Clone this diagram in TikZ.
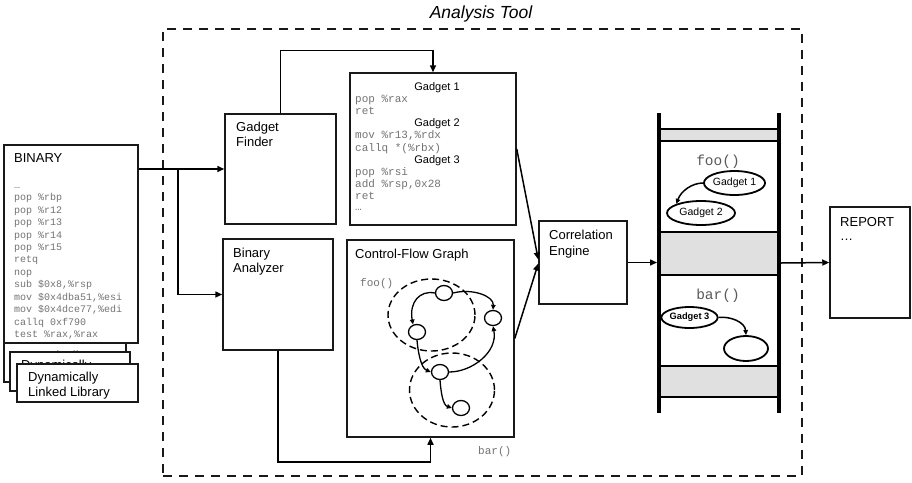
\documentclass[tikz,border=0pt]{standalone}
\usepackage{fontspec}
\setmainfont{Liberation Sans}
\setmonofont{Liberation Mono}
\usetikzlibrary{arrows.meta,shapes.geometric}
\tikzset{
 boxn/.style={draw=black!90,line width=1.5pt,fill=white,inner sep=0pt,rectangle},
 lbl/.style={font=\fontsize{13}{15}\selectfont,inner sep=0pt,anchor=base west},
 codetxt/.style={font=\ttfamily\fontsize{10}{12}\selectfont,text=black!55,inner sep=0pt,anchor=base west},
 gcodetxt/.style={codetxt,font=\ttfamily\fontsize{11}{12}\selectfont},
 ghead/.style={font=\fontsize{11}{12}\selectfont,inner sep=0pt,anchor=base},
 arr/.style={line width=1.5pt,-{Triangle[length=7pt,width=6pt]}},
 cfgn/.style={ellipse,draw,line width=1.3pt,minimum width=17pt,minimum height=15pt,inner sep=0pt,fill=white},
 cfge/.style={line width=1.3pt,-{Triangle[length=5pt,width=4.5pt]}},
 fdash/.style={ellipse,draw,line width=1.4pt,dash pattern=on 7pt off 4pt,inner sep=0pt},
 sell/.style={ellipse,draw,line width=1.8pt,fill=white,inner sep=0pt,font=\fontsize{10.5}{12}\selectfont},
 band/.style={draw,line width=1.5pt,fill=black!12},
 fnname/.style={font=\ttfamily\fontsize{14.5}{16}\selectfont,text=black!65,inner sep=0pt,anchor=base},
}
\begin{document}
\begin{tikzpicture}[x=1pt,y=-1pt]
\useasboundingbox (0,0) rectangle (912,482);

% analysis tool frame
\node[draw=black!90,line width=2.5pt,dash pattern=on 9pt off 7pt,minimum width=639pt,minimum height=447pt,inner sep=0pt] (tool) at (482.5,252.5) {};
\node[font=\itshape\fontsize{17.5}{20}\selectfont,anchor=base,inner sep=0pt] (title) at (481,18.5) {Analysis Tool};

% binary
\node[boxn,minimum width=134pt,minimum height=198pt] (bin) at (71,244) {};
\node[lbl] (bint) at (14,162.5) {BINARY};
\foreach \t [count=\i from 0] in {…,pop \%rbp,pop \%r12,pop \%r13,pop \%r14,pop \%r15,retq,nop,{sub \$0x8,\%rsp},{mov \$0x4dba51,\%esi},{mov \$0x4dce77,\%edi},callq 0xf790,{test \%rax,\%rax}}
  \node[codetxt] (bc\i) at (14,{188.2+12.45*\i}) {\t};

% libraries (stacked; the back ones are mostly hidden)
\node[boxn,minimum width=122pt,minimum height=39pt] (lib1) at (65,362.5) {};
\begin{scope}
\clip (4,343) rectangle (126,352);
\node[lbl] (lib1a) at (15,360.5) {Dynamically};
\end{scope}
\node[boxn,minimum width=120pt,minimum height=39pt] (lib2) at (70,371.5) {};
\begin{scope}
\clip (10,352) rectangle (130,364);
\node[lbl] (lib2a) at (21,369.5) {Dynamically};
\end{scope}
\node[boxn,minimum width=121pt,minimum height=38pt] (lib3) at (77.5,383) {};
\node[lbl] (lib3a) at (28,381.5) {Dynamically};
\node[lbl] (lib3b) at (28,396) {Linked Library};

% gadget finder / binary analyzer
\node[boxn,minimum width=111pt,minimum height=110pt] (gf) at (280.5,169) {};
\node[lbl] (gfa) at (236,131.5) {Gadget};
\node[lbl] (gfb) at (236,146.5) {Finder};
\node[boxn,minimum width=110pt,minimum height=111pt] (ba) at (278,294.5) {};
\node[lbl] (baa) at (233,257.5) {Binary};
\node[lbl] (bab) at (233,272.5) {Analyzer};

% gadget box
\node[boxn,minimum width=166pt,minimum height=152pt] (gb) at (433,149) {};
\node[ghead] (g1h) at (437,90.5) {Gadget 1};
\node[gcodetxt] (gc1) at (355,102.6) {pop \%rax};
\node[gcodetxt] (gc2) at (355,114.7) {ret};
\node[ghead] (g2h) at (437,126.8) {Gadget 2};
\node[gcodetxt] (gc4) at (355,138.9) {mov \%r13,\%rdx};
\node[gcodetxt] (gc5) at (355,151.0) {callq *(\%rbx)};
\node[ghead] (g3h) at (437,163.1) {Gadget 3};
\node[gcodetxt] (gc7) at (355,175.2) {pop \%rsi};
\node[gcodetxt] (gc8) at (355,187.3) {add \%rsp,0x28};
\node[gcodetxt] (gc9) at (355,199.4) {ret};
\node[gcodetxt] (gc10) at (355,210.5) {…};

% control flow graph
\node[boxn,minimum width=167pt,minimum height=197pt] (cfg) at (430.5,338.5) {};
\node[lbl] (cfgt) at (355,258.5) {Control-Flow Graph};
\node[gcodetxt] (cfoo) at (360,286) {foo()};
\node[gcodetxt] (cbar) at (478,454.5) {bar()};
\node[fdash,minimum width=87pt,minimum height=72pt] (fooel) at (431.5,315) {};
\node[fdash,minimum width=85pt,minimum height=74pt] (barel) at (452,390) {};
\node[cfgn] (n1) at (444,293) {};
\node[cfgn] (n2) at (493,318) {};
\node[cfgn] (n3) at (417,332) {};
\node[cfgn] (n4) at (440,372) {};
\node[cfgn] (n5) at (461,408) {};
\draw[cfge] (n1.east) .. controls (472,288) and (494,296) .. (n2.north);
\draw[cfge] (n1.west) .. controls (420,290) and (409,302) .. (413,324.5);
\draw[cfge] (n3.south) .. controls (418,352) and (421,368) .. (n4.west);
\draw[cfge] (n4.east) .. controls (472,372) and (498,352) .. (n2.south);
\draw[cfge] (n4.south) .. controls (441,393) and (443,405) .. (n5.west);

% correlation engine
\node[boxn,minimum width=88pt,minimum height=83pt] (ce) at (583,262.5) {};
\node[lbl] (cea) at (549,239.5) {Correlation};
\node[lbl] (ceb) at (549,255.5) {Engine};

% stack
\coordinate (stl) at (657,263);
\coordinate (str) at (781,263);
\draw[band] (659,129) rectangle (779,141);
\draw[band] (659,232) rectangle (779,275);
\draw[band] (659,366) rectangle (779,397);
\draw[line width=4pt] (659,113) -- (659,413);
\draw[line width=4pt] (779,113) -- (779,413);
\node[fnname] (sfoo) at (718,165.5) {foo()};
\node[fnname] (sbar) at (718,299.5) {bar()};
\node[sell,minimum width=57pt,minimum height=24pt] (g1) at (734.5,183) {Gadget 1};
\node[sell,minimum width=68pt,minimum height=24pt] (g2) at (701,213) {Gadget 2};
\node[sell,minimum width=45pt,minimum height=21pt,font=\bfseries\fontsize{9.3}{11}\selectfont] (g3) at (689.5,317.5) {Gadget 3};
\node[sell,minimum width=44pt,minimum height=25pt] (g4) at (746,348.5) {};
\draw[cfge,line width=1.5pt] (g1.west) .. controls (692,183) and (681,191) .. (g2.north west);
\draw[cfge,line width=1.5pt] (g3.east) .. controls (730,316) and (745,322) .. (g4.north);

% report
\node[boxn,minimum width=80pt,minimum height=111pt] (rep) at (870,262.5) {};
\node[lbl] (repa) at (840,226.5) {REPORT};
\node[lbl] (repb) at (840,240) {…};

% connectors
\coordinate (br) at (178,169);
\draw[arr] (bin.east |- gf.west) -- (gf.west);
\draw[arr] (br) |- (ba.west);
\draw[arr] (gf.north) -- ++(0,-63) -| (gb.north);
\draw[arr] (ba.south) |- ([yshift=-24pt]cfg.south) -- (cfg.south);
\draw[arr] (gb.east) -- ([yshift=3pt]ce.west);
\draw[arr] (cfg.east) -- ([yshift=-1pt]ce.west);
\draw[arr] (ce.east) -- (ce.east -| stl);
\draw[arr] (str) -- (rep.west);
\end{tikzpicture}
\end{document}
